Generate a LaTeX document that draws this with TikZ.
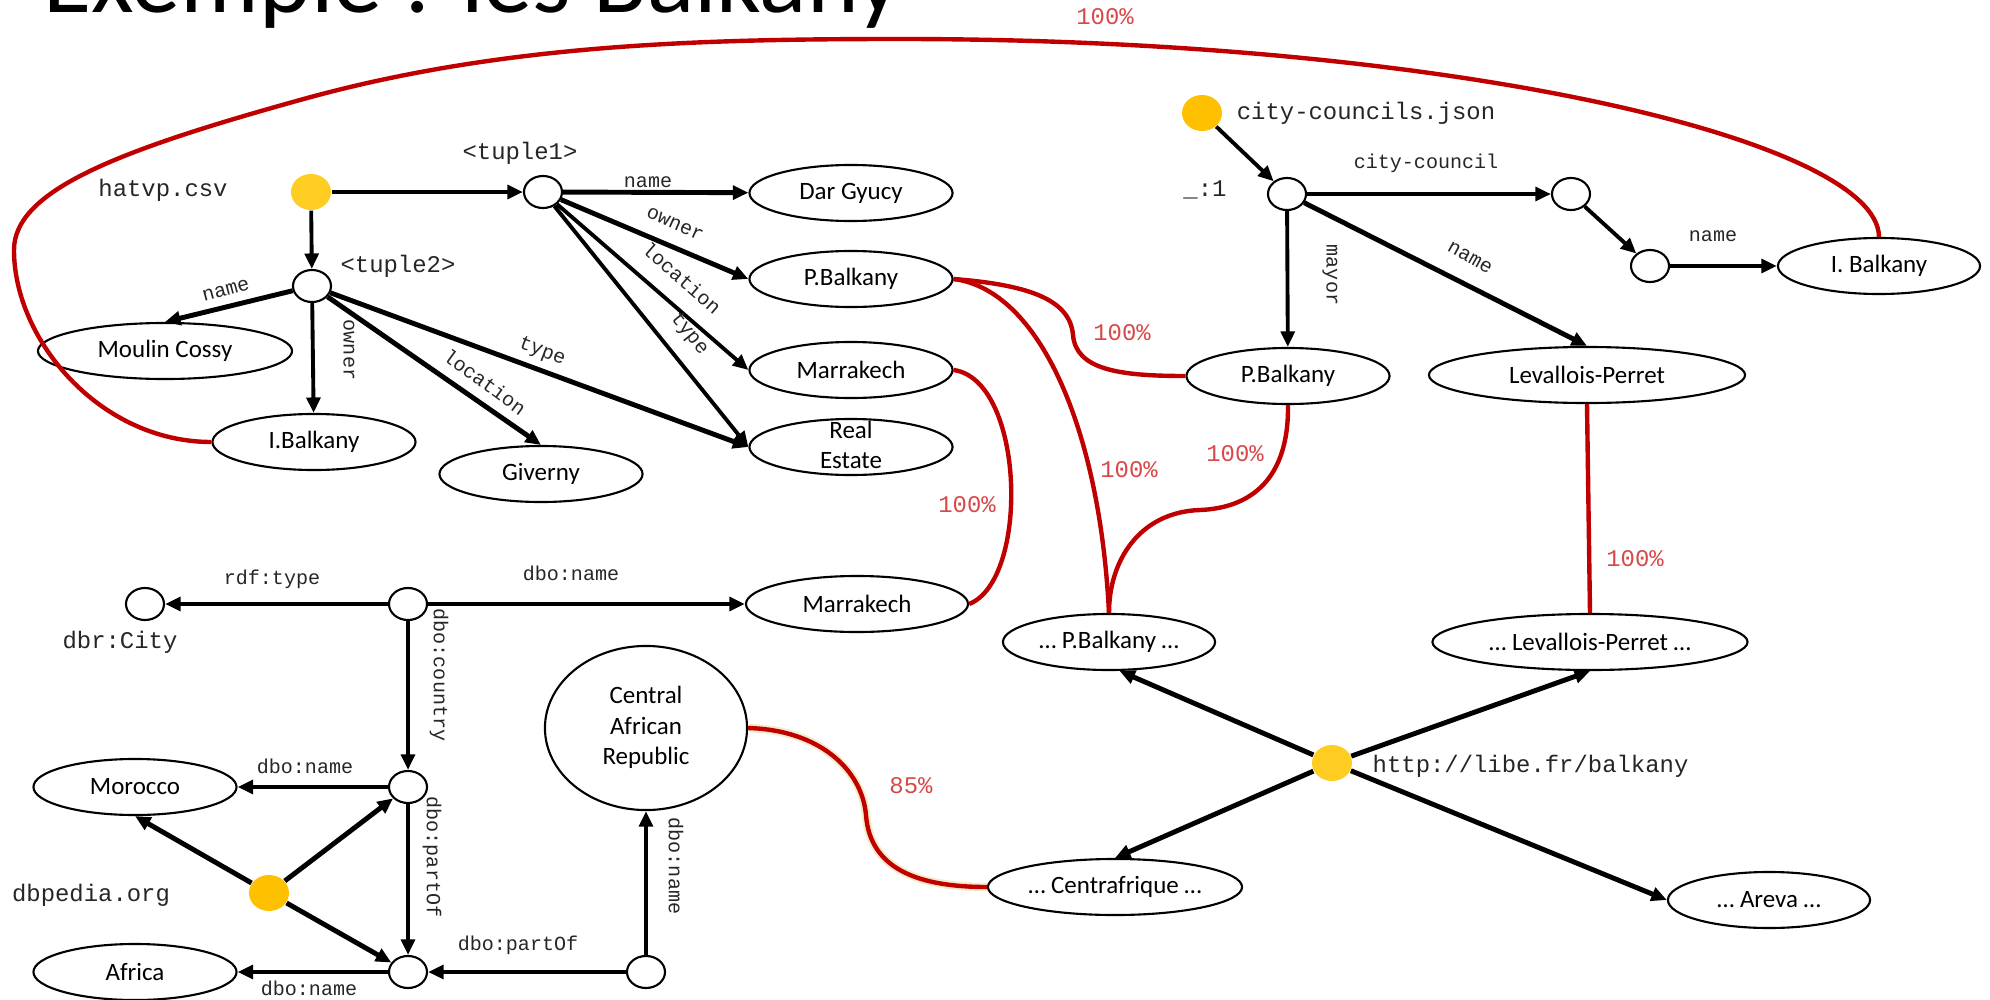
\documentclass[tikz,border=0pt]{standalone}
\usepackage{fontspec}
\setmainfont{Carlito}
\newfontfamily\monof{Liberation Mono}
\usetikzlibrary{shapes.geometric,arrows.meta}
\definecolor{goldA}{HTML}{FFC000}
\definecolor{goldB}{HTML}{FFCC22}
\definecolor{mred}{HTML}{C00000}
\definecolor{pctred}{HTML}{D84848}
\definecolor{halo}{HTML}{F5EBCB}
\newcommand\myEl{\fontsize{7.1}{8.6}\selectfont}
\newcommand\myMonoS{\monof\fontsize{5.7}{6.8}\selectfont}
\newcommand\myMonoL{\monof\fontsize{6.8}{8}\selectfont}
\newcommand\twoline[1]{\smash{\raisebox{-0.25em}{\begin{tabular}{@{}c@{}}#1\end{tabular}}}}
\begin{document}
\begin{tikzpicture}[x=0.01cm, y=-0.01cm,
  ell/.style={ellipse, draw, line width=0.6pt, minimum height=0.56cm, inner sep=0pt, font=\myEl},
  res/.style={ellipse, draw, line width=0.6pt, minimum width=0.38cm, minimum height=0.32cm, inner sep=0pt},
  dotA/.style={ellipse, fill=goldA, minimum width=0.40cm, minimum height=0.36cm, inner sep=0pt},
  dotB/.style={dotA, fill=goldB},
  arm/.style={-{Triangle[length=4.4pt,width=3.9pt]}, line width=1.1pt},
  ark/.style={arm, line width=1.4pt},
  el/.style={font=\myMonoS, inner sep=0pt, text=black!85},
  nl/.style={font=\myMonoL, inner sep=0pt, text=black!85},
  pc/.style={font=\myMonoL, inner sep=0pt, text=pctred},
  mt/.style={draw=mred, line width=1.25pt},
]
\useasboundingbox (0,0) rectangle (1990,1000);

% title (cut by the top edge)
\node[inner sep=0pt, anchor=base west, font=\fontsize{28}{30}\selectfont] (title) at (43,12) {Exemple : les Balkany};

% ---------- hatvp.csv ----------
\node[dotB] (hat) at (311,192) {};
\node[res] (t1) at (543,192) {};
\node[res] (t2) at (312,286) {};
\node[ell, minimum width=2.03cm] (dar) at (851,193) {Dar Gyucy};
\node[ell, minimum width=2.03cm] (pb1) at (851,279) {P.Balkany};
\node[ell, minimum width=2.03cm] (mk1) at (851,370) {Marrakech};
\node[ell, minimum width=2.03cm] (re) at (851,447) {\twoline{Real\\Estate}};
\node[ell, minimum width=2.54cm] (mc) at (165,351) {Moulin Cossy};
\node[ell, minimum width=2.03cm] (ib) at (314,442) {I.Balkany};
\node[ell, minimum width=2.03cm] (gv) at (541,474) {Giverny};

\node[nl] (lhat) at (163,190) {hatvp.csv};
\node[nl] (lt1) at (520,153) {<tuple1>};
\node[nl] (lt2) at (398,266) {<tuple2>};

\draw[ark] (hat) -- (t1);
\draw[arm] (hat) -- (t2);
\draw[ark] (t1) -- (dar);
\draw[ark] (t1) -- (pb1.west);
\draw[arm] (t1) -- (mk1.west);
\draw[arm] (t1) -- (re.west);
\draw[ark] (t2) -- (mc.north);
\draw[arm] (t2) -- (ib);
\draw[ark] (t2) -- (gv.north);
\draw[ark] (t2) -- (re.west);

\node[el] (e1) at (648,182) {name};
\node[el, rotate=-24] (e2) at (675,224) {owner};
\node[el, rotate=-41] (e3) at (682,278) {location};
\node[el, rotate=-51] (e4) at (689,334) {type};
\node[el, rotate=15] (e5) at (226,290) {name};
\node[el, rotate=-90] (e6) at (349,350) {owner};
\node[el, rotate=-36] (e7) at (485,382) {location};
\node[el, rotate=-21] (e8) at (542,352) {type};

% ---------- city-councils.json ----------
\node[dotA] (cdot) at (1202,113) {};
\node[res] (u1) at (1287,194) {};
\node[res] (cc) at (1571,194) {};
\node[res] (sm) at (1650,266) {};
\node[ell, minimum width=2.02cm] (ib2) at (1879,266) {I. Balkany};
\node[ell, minimum width=2.03cm] (pb2) at (1288,376) {P.Balkany};
\node[ell, minimum width=3.16cm] (lp) at (1587,375) {Levallois-Perret};

\node[nl] (lcc) at (1366,113) {city-councils.json};
\node[nl] (lu1) at (1205,190) {\_:1};

\draw[arm] (cdot) -- (u1);
\draw[ark] (u1) -- (cc);
\draw[arm] (cc) -- (sm);
\draw[ark] (sm) -- (ib2);
\draw[arm] (u1) -- (pb2);
\draw[ark] (u1) -- (lp.north);

\node[el] (e9) at (1426,163) {city-council};
\node[el] (e10) at (1713,236) {name};
\node[el, rotate=-90] (e11) at (1330,275) {mayor};
\node[el, rotate=-29] (e12) at (1470,258) {name};

% ---------- libe.fr ----------
\node[ell, minimum width=2.12cm] (xpb) at (1109,642) {… P.Balkany …};
\node[ell, minimum width=3.15cm] (xlp) at (1590,642) {… Levallois-Perret …};
\node[dotB] (libe) at (1332,763) {};
\node[ell, minimum width=2.54cm] (xcf) at (1115,887) {… Centrafrique …};
\node[ell, minimum width=2.02cm] (xar) at (1769,900) {… Areva …};
\node[nl, anchor=west] (llibe) at (1372,766) {http://libe.fr/balkany};

\draw[ark] (libe) -- (xpb.-70);
\draw[ark] (libe) -- (xlp.south);
\draw[ark] (libe) -- (xcf.north);
\draw[ark] (libe) -- (xar.west);

% ---------- dbpedia.org ----------
\node[res] (city) at (145,604) {};
\node[res] (c1) at (408,604) {};
\node[ell, minimum width=2.22cm] (mk2) at (857,604) {Marrakech};
\node[res] (c2) at (408,787) {};
\node[ell, minimum width=2.03cm] (mor) at (135,787) {Morocco};
\node[dotA] (ddot) at (269,893) {};
\node[res] (c3) at (408,972) {};
\node[ell, minimum width=2.03cm] (afr) at (135,972) {Africa};
\node[res] (c4) at (646,972) {};
\node[ell, minimum width=2.02cm, minimum height=1.64cm] (car) at (646,728) {\twoline{Central\\African\\Republic}};

\node[nl] (lcity) at (120,642) {dbr:City};
\node[nl] (ldbp) at (91,895) {dbpedia.org};

\draw[ark] (c1) -- (city);
\draw[ark] (c1) -- (mk2);
\draw[arm] (c1) -- (c2);
\draw[ark] (c2) -- (mor);
\draw[arm] (c2) -- (c3);
\draw[ark] (c3) -- (afr);
\draw[ark] (c4) -- (c3);
\draw[arm] (c4) -- (car);
\draw[ark] (ddot) -- (mor.south);
\draw[ark] (ddot) -- (c2);
\draw[ark] (ddot) -- (c3);

\node[el] (e13) at (272,579) {rdf:type};
\node[el] (e14) at (571,573) {dbo:name};
\node[el, rotate=-90] (e15) at (439,675) {dbo:country};
\node[el] (e16) at (305,766) {dbo:name};
\node[el, rotate=-90] (e17) at (432,857) {dbo:partOf};
\node[el] (e18) at (309,988) {dbo:name};
\node[el] (e19) at (518,945) {dbo:partOf};
\node[el, rotate=-90] (e20) at (676,866) {dbo:name};

% ---------- matches ----------
\draw[mt] (ib.west) .. controls (100,442) and (14,340) .. (14,250)
  .. controls (14,190) and (120,150) .. (300,100)
  .. controls (500,44) and (700,39) .. (900,39)
  .. controls (1450,39) and (1878,140) .. (ib2.north);
\draw[mt] (pb1.east) .. controls (1030,285) and (1070,300) .. (1073,335)
  .. controls (1076,370) and (1120,376) .. (pb2.west);
\draw[mt] (pb1.east) .. controls (1040,290) and (1100,430) .. (xpb.north);
\draw[mt] (pb2.south) .. controls (1289,480) and (1250,508) .. (1200,510)
  .. controls (1140,512) and (1109,560) .. (xpb.north);
\draw[mt] (mk1.east) .. controls (1025,380) and (1030,580) .. (mk2.east);
\draw[mt] (lp.south) -- (xlp.north);
\draw[mt, preaction={draw=halo, line width=2.4pt}] (car.east) .. controls (820,730) and (862,770) .. (866,815)
  .. controls (870,870) and (920,887) .. (xcf.west);

\node[pc] (p1) at (1105,17) {100\%};
\node[pc] (p2) at (1122,333) {100\%};
\node[pc] (p3) at (1129,470) {100\%};
\node[pc] (p4) at (1235,454) {100\%};
\node[pc] (p5) at (967,505) {100\%};
\node[pc] (p6) at (1635,559) {100\%};
\node[pc] (p7) at (911,786) {85\%};
\end{tikzpicture}
\end{document}
